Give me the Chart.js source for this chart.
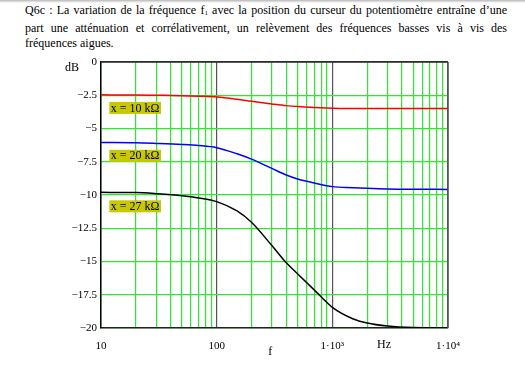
<!DOCTYPE html>
<html>
<head>
<meta charset="utf-8">
<script src="https://cdn.jsdelivr.net/npm/chart.js@4"></script>
<style>
  html, body { margin: 0; padding: 0; background: #fff; }
  body { width: 525px; height: 372px; position: relative; overflow: hidden; }
  #topshade { position: absolute; left: 0; top: 0; width: 525px; height: 3px;
    background: linear-gradient(#b8b8b8, #fff); }
  #title { position: absolute; left: 25px; top: 3px; width: 482px;
    font-family: "Liberation Serif", serif; font-size: 12px; line-height: 15px; color: #000; }
  #title .j { text-align: justify; text-align-last: justify; white-space: normal; }
  #title sub { font-size: 7px; vertical-align: -1px; }
  #wrap { position: absolute; left: 0; top: 0; width: 525px; height: 372px; }
</style>
</head>
<body>
<div id="topshade"></div>
<div id="title">
  <div class="j">Q6c : La variation de la fréquence f<sub>1</sub> avec la position du curseur du potentiomètre entraîne d’une</div>
  <div class="j">part une atténuation et corrélativement, un relèvement des fréquences basses vis à vis des</div>
  <div>fréquences aigues.</div>
</div>
<div id="wrap"><canvas id="c" width="525" height="372"></canvas></div>
<script>
// frequencies (Hz)
const freqs = [10, 20, 30, 50, 70, 100, 150, 200, 300, 400, 500, 700, 1000, 1500, 2000, 3000, 5000, 10000];
// gain (dB) for each cursor position
const gain10k = [-2.47, -2.48, -2.5, -2.53, -2.57, -2.63, -2.8, -2.95, -3.15, -3.28, -3.35, -3.42, -3.47, -3.5, -3.5, -3.5, -3.5, -3.5];
const gain20k = [-6.05, -6.07, -6.12, -6.2, -6.28, -6.44, -6.9, -7.3, -8.0, -8.5, -8.8, -9.1, -9.37, -9.45, -9.5, -9.55, -9.57, -9.58];
const gain27k = [-9.8, -9.82, -9.9, -10.05, -10.22, -10.5, -11.2, -12.05, -13.8, -15.1, -15.92, -17.15, -18.45, -19.3, -19.62, -19.85, -19.97, -20];
const seriesNames = ['x = 10 kΩ', 'x = 20 kΩ', 'x = 27 kΩ'];
// where the name boxes sit (freq, dB of box top-left)
const labelAt = [[11.8, -3.0], [11.8, -6.6], [11.8, -10.4]];
const yTicks = [-20, -17.5, -15, -12.5, -10, -7.5, -5, -2.5, 0];
const xLabels = { 10: '10', 100: '100', 1000: '1·10³', 10000: '1·10⁴' };

const serif = '"Liberation Serif", "Times New Roman", serif';
const green = '#2ee82e';
const dark = '#555555';

function toPts(ys) { return freqs.map((f, i) => ({ x: f, y: ys[i] })); }

const extras = {
  id: 'extras',
  afterDatasetsDraw(chart) {
    const { ctx, scales: { x, y }, chartArea: a } = chart;
    ctx.save();
    // top and right frame
    ctx.strokeStyle = '#333';
    ctx.lineWidth = 1.5;
    ctx.beginPath();
    ctx.moveTo(a.left, a.top);
    ctx.lineTo(a.right, a.top);
    ctx.stroke();
    ctx.strokeStyle = dark;
    ctx.beginPath();
    ctx.moveTo(a.right, a.top);
    ctx.lineTo(a.right, a.bottom);
    ctx.stroke();
    // name boxes
    ctx.font = '12px ' + serif;
    ctx.textBaseline = 'middle';
    seriesNames.forEach((s, i) => {
      const px = x.getPixelForValue(labelAt[i][0]);
      const py = y.getPixelForValue(labelAt[i][1]);
      const w = ctx.measureText(s).width + 3;
      ctx.fillStyle = '#c8c800';
      ctx.fillRect(px, py, w, 12);
      ctx.fillStyle = '#000';
      ctx.fillText(s, px + 1.5, py + 6.5);
    });
    // axis titles
    ctx.textAlign = 'left';
    ctx.fillText('dB', a.left - 36, a.top + 6);
    ctx.textAlign = 'center';
    ctx.fillText('f', x.getPixelForValue(290), a.bottom + 24);
    ctx.fillText('Hz', x.getPixelForValue(2800), a.bottom + 17);
    ctx.restore();
  }
};

const xTickVals = [];
[10, 100, 1000].forEach(d => { for (let k = 1; k <= 9; k++) xTickVals.push(d * k); });
xTickVals.push(10000);

new Chart(document.getElementById('c'), {
  type: 'line',
  data: {
    datasets: [
      { label: seriesNames[0], data: toPts(gain10k), borderColor: '#ff0000' },
      { label: seriesNames[1], data: toPts(gain20k), borderColor: '#0000ff' },
      { label: seriesNames[2], data: toPts(gain27k), borderColor: '#000000' }
    ]
  },
  options: {
    responsive: false,
    animation: false,
    layout: { padding: { top: 62, right: 77, bottom: 0, left: 0 } },
    elements: {
      point: { radius: 0 },
      line: { borderWidth: 1.5, cubicInterpolationMode: 'monotone' }
    },
    plugins: { legend: { display: false }, tooltip: { enabled: false } },
    scales: {
      x: {
        type: 'logarithmic',
        min: 10, max: 10000,
        afterBuildTicks(s) { s.ticks = xTickVals.map(v => ({ value: v })); },
        afterFit(s) { s.height = 44; },
        grid: {
          drawTicks: false,
          lineWidth: 1.2,
          color: c => {
            const v = c.tick ? c.tick.value : 0;
            return (v === 100 || v === 1000 || v === 10000) ? dark : green;
          }
        },
        border: { color: '#222', width: 1.5 },
        ticks: {
          autoSkip: false, maxRotation: 0, padding: 12,
          color: '#000', font: { family: serif, size: 11 },
          callback: v => xLabels[v] || ''
        }
      },
      y: {
        min: -20, max: 0,
        afterBuildTicks(s) { s.ticks = yTicks.map(v => ({ value: v })); },
        afterFit(s) { s.width = 101; },
        grid: {
          drawTicks: false,
          lineWidth: 1.2,
          color: c => (c.tick && c.tick.value === 0) ? '#222' : green
        },
        border: { color: '#000', width: 1.5 },
        ticks: {
          padding: 4, color: '#000', font: { family: serif, size: 11 },
          callback: v => v === 0 ? '0' : '−' + Math.abs(v)
        }
      }
    }
  },
  plugins: [extras]
});
</script>
</body>
</html>
